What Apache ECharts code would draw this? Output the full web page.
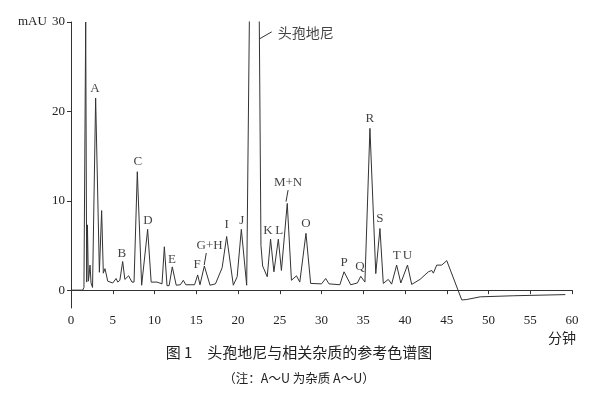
<!DOCTYPE html>
<html><head><meta charset="utf-8">
<script src="https://cdn.jsdelivr.net/npm/echarts@6/dist/echarts.min.js"></script>
<style>html,body{margin:0;padding:0;background:#fff}#c{width:598px;height:396px}</style>
</head><body><div id="c"></div>
<script>
// Chromatogram trace: retention time (min) and absorbance (mAU)
var times = [0,1.4,1.55,1.76,1.88,1.97,2.08,2.18,2.28,2.4,2.58,2.95,3.4,3.67,3.87,4.07,4.4,5.0,5.4,5.6,5.85,6.19,6.45,6.9,7.3,7.55,7.94,8.46,9.18,9.6,10.3,10.9,11.18,11.5,11.75,12.13,12.6,13.1,13.45,13.75,14.8,15.17,15.45,15.97,16.65,17.3,18.1,18.64,19.44,19.9,20.4,21.04,21.36,21.95,22.55,22.75,22.95,23.5,23.9,24.3,24.83,25.2,25.9,26.4,27.0,27.4,28.14,28.7,30.0,30.5,30.9,32.2,32.7,33.5,34.3,34.7,35.2,35.8,36.5,37.0,37.4,38.0,38.4,39.0,39.5,40.3,40.8,41.8,42.8,43.2,43.4,43.8,44.4,45.0,46.8,47.4,49.0,53.0,59.2];
var mAU = [0,0,0.3,30,0.9,7.3,1.0,1.8,2.8,0.8,0.3,21.5,2.0,8.9,1.9,2.4,1.0,0.8,1.3,0.9,1.1,3.2,1.2,1.6,0.9,0.9,13.25,0.55,6.8,0.9,0.9,0.7,4.85,0.5,0.5,2.6,0.55,0.6,1.1,0.6,0.6,1.7,0.6,2.7,0.55,0.7,2.5,6.0,0.55,1.5,6.8,0.55,30,150,30,5,2.7,1.5,5.7,2.05,5.7,2.2,9.7,1.1,1.6,0.9,6.35,0.75,0.7,1.3,0.7,0.6,2.05,0.6,0.8,1.55,0.9,18.1,1.85,6.9,0.75,1.2,0.67,2.8,0.8,2.8,0.64,1.2,2.05,2.2,1.9,2.8,2.8,3.3,-1.1,-1.05,-0.75,-0.63,-0.5];

// Peak labels (name, time, mAU where the label sits)
var peakNames = ['A','B','C','D','E','F','G+H','I','J','K','L','M+N','O','P','Q','R','S','T','U'];
var peakLabelTimes = [2.87,6.1,8.0,9.2,12.1,15.1,16.6,18.65,20.44,23.6,24.95,26.0,28.14,32.7,34.6,35.8,37.0,39.0,40.3];
var peakLabelValues = [22.6,4.1,14.4,7.8,3.4,2.9,5.0,7.3,7.8,6.7,6.7,12.06,7.5,3.06,2.6,19.2,8.0,3.85,3.85];

var mainName = '头孢地尼';
var mainLabelPos = [24.4, 28.8];
var leaderMain = [[22.55,28.1],[24.04,28.9]];
var leaderGH = [[16.2,4.15],[15.95,2.8]];
var leaderMN = [[26.0,11.2],[25.75,9.9]];

var xTicks = [0,5,10,15,20,25,30,35,40,45,50,55,60];
var yTicks = [0,10,20,30];
var xUnit = '分钟', yUnit = 'mAU';
var figTitle = '图 1　头孢地尼与相关杂质的参考色谱图';
var figNote = '（注：A～U 为杂质 A～U）';

var trace = times.map(function(t,i){return [t, mAU[i]];});
var labelData = peakNames.map(function(n,i){return {name:n, value:[peakLabelTimes[i], peakLabelValues[i]]};});
labelData.push({name:mainName, value:mainLabelPos, label:{position:'right', offset:[-2,0], fontFamily:'Noto Sans CJK SC', fontSize:14}});

var serif = '"Liberation Serif","DejaVu Serif",serif';
function leader(d){return {type:'line', data:d, symbol:'none', silent:true, lineStyle:{color:'#333', width:1}, z:3};}

var chart = echarts.init(document.getElementById('c'), null, {renderer:'canvas'});
chart.setOption({
  animation:false,
  backgroundColor:'#fff',
  grid:{left:71, right:26, top:22, bottom:88},
  xAxis:{type:'value', min:0, max:60, interval:5,
    axisLine:{lineStyle:{color:'#333', width:1}},
    axisTick:{show:true, length:4, lineStyle:{color:'#333'}},
    axisLabel:{color:'#222', fontFamily:serif, fontSize:13, margin:6, customValues:xTicks},
    splitLine:{show:false}},
  yAxis:{type:'value', min:-2, max:30,
    axisLine:{show:true, lineStyle:{color:'#333', width:1}},
    axisTick:{show:true, length:4, lineStyle:{color:'#333'}, customValues:yTicks},
    axisLabel:{color:'#222', fontFamily:serif, fontSize:13, margin:6, customValues:yTicks},
    splitLine:{show:false}},
  series:[
    {type:'line', data:trace, symbol:'none', clip:true, lineStyle:{color:'#333', width:1}, z:2},
    {type:'scatter', data:labelData, symbolSize:0, silent:true, z:4,
      label:{show:true, position:'inside', formatter:'{b}', color:'#111', fontFamily:serif, fontSize:13}},
    leader(leaderMain), leader(leaderGH), leader(leaderMN)
  ],
  graphic:[
    {type:'text', left:18, top:15, style:{text:yUnit, font:'13px '+serif, fill:'#222'}},
    {type:'text', left:548, top:331, style:{text:xUnit, font:'14px "Noto Sans CJK SC"', fill:'#222'}},
    {type:'text', left:'center', top:345, style:{text:figTitle, font:'15px "Noto Sans CJK SC"', fill:'#222'}},
    {type:'text', left:'center', top:372, style:{text:figNote, font:'12.5px "Noto Sans CJK SC"', fill:'#222'}}
  ]
});
</script></body></html>
